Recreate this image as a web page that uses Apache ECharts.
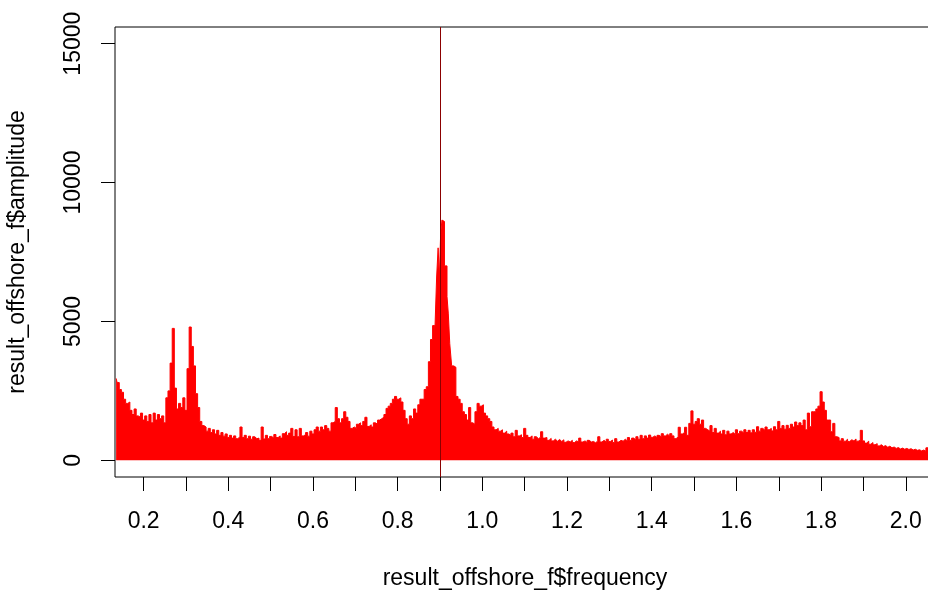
<!DOCTYPE html>
<html>
<head>
<meta charset="utf-8">
<script src="https://cdn.jsdelivr.net/npm/echarts@6/dist/echarts.min.js"></script>
<style>
html,body{margin:0;padding:0;background:#fff;}
#chart{width:928px;height:591px;}
</style>
</head>
<body>
<div id="chart"></div>
<script>
// Frequencies (x)
const frequency = [
0.135,0.140,0.145,0.150,0.155,0.160,0.165,0.170,0.175,0.180,0.185,0.190,0.195,0.200,0.205,0.210,0.215,0.220,0.225,0.230,
0.235,0.240,0.245,0.250,0.255,0.260,0.265,0.270,0.275,0.280,0.285,0.290,0.295,0.300,0.305,0.310,0.315,0.320,0.325,0.330,
0.335,0.340,0.345,0.350,0.355,0.360,0.365,0.370,0.375,0.380,0.385,0.390,0.395,0.400,0.405,0.410,0.415,0.420,0.425,0.430,
0.435,0.440,0.445,0.450,0.455,0.460,0.465,0.470,0.475,0.480,0.485,0.490,0.495,0.500,0.505,0.510,0.515,0.520,0.525,0.530,
0.535,0.540,0.545,0.550,0.555,0.560,0.565,0.570,0.575,0.580,0.585,0.590,0.595,0.600,0.605,0.610,0.615,0.620,0.625,0.630,
0.635,0.640,0.645,0.650,0.655,0.660,0.665,0.670,0.675,0.680,0.685,0.690,0.695,0.700,0.705,0.710,0.715,0.720,0.725,0.730,
0.735,0.740,0.745,0.750,0.755,0.760,0.765,0.770,0.775,0.780,0.785,0.790,0.795,0.800,0.805,0.810,0.815,0.820,0.825,0.830,
0.835,0.840,0.845,0.850,0.855,0.860,0.865,0.870,0.875,0.880,0.885,0.890,0.894,0.897,0.900,0.903,0.906,0.909,0.912,0.915,
0.918,0.921,0.925,0.930,0.935,0.940,0.945,0.950,0.955,0.960,0.965,0.970,0.975,0.980,0.985,0.990,0.995,1.000,1.005,1.010,
1.015,1.020,1.025,1.030,1.035,1.040,1.045,1.050,1.055,1.060,1.065,1.070,1.075,1.080,1.085,1.090,1.095,1.100,1.105,1.110,
1.115,1.120,1.125,1.130,1.135,1.140,1.145,1.150,1.155,1.160,1.165,1.170,1.175,1.180,1.185,1.190,1.195,1.200,1.205,1.210,
1.215,1.220,1.225,1.230,1.235,1.240,1.245,1.250,1.255,1.260,1.265,1.270,1.275,1.280,1.285,1.290,1.295,1.300,1.305,1.310,
1.315,1.320,1.325,1.330,1.335,1.340,1.345,1.350,1.355,1.360,1.365,1.370,1.375,1.380,1.385,1.390,1.395,1.400,1.405,1.410,
1.415,1.420,1.425,1.430,1.435,1.440,1.445,1.450,1.455,1.460,1.465,1.470,1.475,1.480,1.485,1.490,1.495,1.500,1.505,1.510,
1.515,1.520,1.525,1.530,1.535,1.540,1.545,1.550,1.555,1.560,1.565,1.570,1.575,1.580,1.585,1.590,1.595,1.600,1.605,1.610,
1.615,1.620,1.625,1.630,1.635,1.640,1.645,1.650,1.655,1.660,1.665,1.670,1.675,1.680,1.685,1.690,1.695,1.700,1.705,1.710,
1.715,1.720,1.725,1.730,1.735,1.740,1.745,1.750,1.755,1.760,1.765,1.770,1.775,1.780,1.785,1.790,1.795,1.800,1.805,1.810,
1.815,1.820,1.825,1.830,1.835,1.840,1.845,1.850,1.855,1.860,1.865,1.870,1.875,1.880,1.885,1.890,1.895,1.900,1.905,1.910,
1.915,1.920,1.925,1.930,1.935,1.940,1.945,1.950,1.955,1.960,1.965,1.970,1.975,1.980,1.985,1.990,1.995,2.000,2.005,2.010,
2.015,2.020,2.025,2.030,2.035,2.040,2.045,2.050,2.055,2.060
];
// Amplitude (y)
const amplitude = [
2950,2800,2550,2450,2200,2050,2100,1800,1650,1850,1600,1550,1700,1450,1600,1400,1650,1350,1700,1450,
1650,1500,1600,1350,2250,2500,3500,4750,2600,1850,2050,1900,2250,1800,3300,4800,4100,3400,2400,1900,
1400,1250,1200,1050,1150,1000,1100,950,1080,900,1000,870,950,820,900,800,880,780,850,1200,
820,900,780,870,760,850,780,800,720,1200,770,900,780,860,800,930,820,880,800,960,
1030,900,980,1150,860,1100,850,1150,880,920,1000,870,1050,950,1100,1200,1050,1200,1100,1250,
1150,1050,1350,1400,1900,1500,1350,1500,1750,1550,1400,1150,1200,1150,1300,1350,1250,1400,1550,1220,
1280,1200,1350,1300,1450,1500,1550,1650,1870,1950,2050,2200,2300,2200,2250,2100,1800,1500,1300,1600,
1500,1850,1700,2000,2200,2200,2550,2650,3550,4350,4850,4500,6600,7650,6600,8150,8650,8600,7000,7000,
5900,5300,4200,3400,3350,2300,2200,2050,1750,1650,1450,1900,1350,1300,1750,2050,1950,2000,1700,1600,
1500,1400,1200,1100,1150,1050,1100,980,1050,950,900,980,850,1080,880,920,820,1150,900,820,
880,760,850,780,830,1030,800,820,720,790,700,760,690,750,680,740,650,700,660,720,
640,700,660,800,660,700,640,720,660,680,630,700,850,660,720,650,760,680,730,640,
780,660,720,690,760,700,820,720,800,730,850,760,900,780,880,800,910,830,880,820,
900,850,960,880,940,870,960,880,780,850,1190,950,1000,1190,900,1330,1780,1300,1400,1500,
1300,1450,1150,1100,1050,1250,1000,1150,980,1050,950,1080,920,1050,950,1000,930,1100,960,1050,
980,1100,1000,1080,990,1100,1010,1210,1050,1150,1080,1200,1100,1150,1060,1210,1100,1400,1150,1250,
1120,1260,1150,1300,1200,1380,1250,1350,1250,1450,1100,1700,1210,1750,1750,1850,1950,2470,2100,1800,
1450,1450,1030,1330,850,820,700,780,690,760,680,740,700,770,690,720,1080,700,620,690,
580,640,560,600,520,560,500,530,470,510,450,480,430,460,410,440,400,430,390,420,
370,400,360,380,340,370,330,450,350,330
];
const xTickValues = [0.2,0.3,0.4,0.5,0.6,0.7,0.8,0.9,1.0,1.1,1.2,1.3,1.4,1.5,1.6,1.7,1.8,1.9,2.0];
const xLabelValues = [0.2,0.4,0.6,0.8,1.0,1.2,1.4,1.6,1.8,2.0];
const yTickValues = [0,5000,10000,15000];
const markFrequency = 0.9;

const seriesData = frequency.map((f, i) => [f, amplitude[i]]);
const FONT = 'Liberation Sans, Arial, sans-serif';
const chart = echarts.init(document.getElementById('chart'), null, {renderer: 'canvas'});
chart.setOption({
  animation: false,
  backgroundColor: '#ffffff',
  grid: {left: 115, top: 27, right: -7, height: 450, containLabel: false, outerBoundsMode: 'none',
    show: true, borderColor: '#000', borderWidth: 1, backgroundColor: 'transparent'},
  xAxis: {
    type: 'value', min: 0.1324, max: 2.069,
    name: 'result_offshore_f$frequency', nameLocation: 'middle', nameGap: 90,
    nameTextStyle: {fontFamily: FONT, fontSize: 23, color: '#000'},
    axisLine: {show: false, onZero: false},
    axisTick: {show: true, length: 14, lineStyle: {color: '#000', width: 1}, customValues: xTickValues},
    axisLabel: {show: true, margin: 33, fontFamily: FONT, fontSize: 23, color: '#000', customValues: xLabelValues,
      formatter: v => v.toFixed(1)},
    splitLine: {show: false}
  },
  yAxis: {
    type: 'value', min: -600, max: 15600,
    name: 'result_offshore_f$amplitude', nameLocation: 'middle', nameGap: 86,
    nameTextStyle: {fontFamily: FONT, fontSize: 23, color: '#000'},
    axisLine: {show: false, onZero: false},
    axisTick: {show: true, length: 14, lineStyle: {color: '#000', width: 1}, customValues: yTickValues},
    axisLabel: {show: true, margin: 30, rotate: 90, fontFamily: FONT, fontSize: 23, color: '#000', customValues: yTickValues,
      formatter: v => String(Math.round(v))},
    splitLine: {show: false}
  },
  series: [{
    type: 'line',
    data: seriesData,
    step: 'middle',
    symbol: 'none',
    lineStyle: {color: '#ff0000', width: 1},
    areaStyle: {color: '#ff0000', opacity: 1},
    clip: true,
    markLine: {
      silent: true,
      symbol: ['none', 'none'],
      label: {show: false},
      lineStyle: {color: '#8b0000', width: 1, type: 'solid'},
      data: [{xAxis: markFrequency}]
    }
  }]
});
</script>
</body>
</html>
